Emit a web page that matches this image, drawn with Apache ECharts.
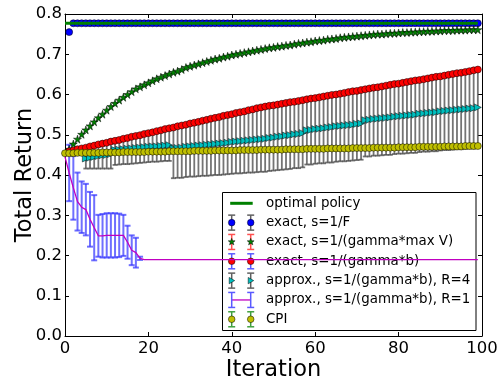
<!DOCTYPE html>
<html>
<head>
<meta charset="utf-8">
<script src="https://cdn.jsdelivr.net/npm/echarts@6/dist/echarts.min.js"></script>
<style>
  html, body { margin: 0; padding: 0; background: #fff; }
  #chart { width: 499px; height: 379px; }
</style>
</head>
<body>
<div id="chart"></div>
<script>
// ---- data ----
const xTicks = [0, 20, 40, 60, 80, 100];
const yTicks = [0.0, 0.1, 0.2, 0.3, 0.4, 0.5, 0.6, 0.7, 0.8];

// optimal policy (flat reference line)
const optimalIter = [0, 99];
const optimalVal = [0.777, 0.777];

// exact, s=1/F  (iterations 1..99)
const blueStart = 1;
const blueVal = [
  .755, .777, .777, .777, .777, .777, .777, .777, .777, .777,
  .777, .777, .777, .777, .777, .777, .777, .777, .777, .777,
  .777, .777, .777, .777, .777, .777, .777, .777, .777, .777,
  .777, .777, .777, .777, .777, .777, .777, .777, .777, .777,
  .777, .777, .777, .777, .777, .777, .777, .777, .777, .777,
  .777, .777, .777, .777, .777, .777, .777, .777, .777, .777,
  .777, .777, .777, .777, .777, .777, .777, .777, .777, .777,
  .777, .777, .777, .777, .777, .777, .777, .777, .777, .777,
  .777, .777, .777, .777, .777, .777, .777, .777, .777, .777,
  .777, .777, .777, .777, .777, .777, .777, .777, .777
];

// exact, s=1/(gamma*max V)  (iterations 1..99)
const starStart = 1;
const starVal = [
  .464, .477, .489, .501, .512, .522, .532, .542, .551, .561,
  .570, .578, .586, .593, .600, .607, .614, .619, .624, .629,
  .634, .639, .643, .647, .651, .655, .658, .662, .667, .670,
  .673, .676, .679, .682, .685, .688, .690, .693, .695, .698,
  .700, .702, .704, .706, .708, .710, .712, .714, .716, .717,
  .719, .720, .722, .723, .725, .727, .728, .730, .731, .733,
  .734, .735, .737, .738, .739, .741, .742, .743, .744, .745,
  .746, .747, .748, .749, .750, .750, .751, .752, .752, .753,
  .754, .754, .755, .755, .756, .756, .757, .757, .758, .758,
  .759, .759, .759, .760, .760, .760, .761, .761, .761
];

// exact, s=1/(gamma*b)  (iterations 1..99)
const redStart = 1;
const redVal = [
  .459, .461, .464, .466, .468, .471, .473, .476, .478, .480,
  .483, .485, .487, .490, .492, .495, .497, .499, .502, .504,
  .506, .509, .511, .514, .516, .518, .521, .523, .525, .528,
  .530, .532, .535, .537, .540, .542, .544, .547, .549, .551,
  .554, .556, .558, .561, .563, .566, .568, .570, .572, .573,
  .575, .577, .579, .581, .582, .584, .586, .588, .590, .591,
  .593, .595, .597, .599, .600, .602, .604, .606, .608, .609,
  .611, .613, .615, .617, .618, .620, .622, .624, .626, .627,
  .629, .631, .633, .635, .636, .638, .640, .642, .644, .645,
  .647, .649, .651, .653, .654, .656, .658, .660, .662
];

// approx., s=1/(gamma*b), R=4  (iterations 5..99), error bar extents below / above
const cyanStart = 5;
const cyanVal = [
  .441, .443, .445, .447, .449, .450, .452,
  .462, .463, .464, .465, .466, .467, .468, .469, .470, .471, .471, .472, .473, .474,
  .466, .467, .468, .470, .471,
  .472, .473, .474, .475, .476, .477, .478, .479, .480, .482,
  .483, .484, .485, .486, .487, .488, .489, .490, .492, .493,
  .495, .496, .498, .499, .501, .502, .504,
  .511, .512, .514, .515, .516, .518, .519, .521,
  .522, .523, .524, .525, .527, .528,
  .536, .537, .539, .540, .541, .542, .543, .545, .546,
  .547, .548, .549, .550, .552, .553, .554, .555, .556, .558,
  .559, .560, .561, .562, .563, .564, .565, .566, .568
];
const cyanErrDown = [
  .025, .027, .029, .031, .033, .034, .036,
  .037, .037, .037, .038, .038, .038, .038, .038, .038, .038, .038, .038, .038, .039,
  .074, .074, .075, .075, .075,
  .076, .076, .076, .077, .077, .077, .078, .078, .078, .079,
  .079, .080, .080, .080, .081, .081, .081, .082, .082, .082,
  .083, .083, .084, .084, .084, .085, .085,
  .085, .086, .086, .086, .087, .087, .088, .088,
  .088, .089, .089, .089, .090, .090,
  .090, .091, .091, .092, .092, .092, .093, .093, .093,
  .094, .094, .094, .095, .095, .095, .096, .096, .097, .097,
  .097, .098, .098, .098, .099, .099, .099, .100, .100
];
const cyanErrUp = [
  .025, .027, .029, .031, .033, .034, .036,
  .023, .024, .026, .027, .029, .030, .031, .033, .034, .035, .038, .039, .041, .042,
  .052, .054, .055, .055, .057,
  .058, .059, .061, .062, .064, .065, .066, .068, .069, .069,
  .071, .072, .073, .075, .076, .078, .079, .080, .080, .080,
  .080, .081, .081, .082, .081, .082, .082,
  .077, .078, .077, .078, .079, .079, .080, .079,
  .080, .081, .082, .083, .082, .083,
  .077, .078, .078, .078, .079, .080, .081, .081, .081,
  .082, .083, .084, .085, .084, .085, .086, .087, .088, .087,
  .088, .089, .090, .091, .091, .092, .093, .094, .094
];

// approx., s=1/(gamma*b), R=1  (iterations 0..99), error bars for the first 20
const magentaStart = 0;
const magentaVal = [
  .445, .405, .368, .334, .320, .314, .290, .269, .249, .249,
  .250, .250, .250, .250, .250, .233, .213, .207, .193, .190,
  .190, .190, .190, .190, .190, .190, .190, .190, .190, .190,
  .190, .190, .190, .190, .190, .190, .190, .190, .190, .190,
  .190, .190, .190, .190, .190, .190, .190, .190, .190, .190,
  .190, .190, .190, .190, .190, .190, .190, .190, .190, .190,
  .190, .190, .190, .190, .190, .190, .190, .190, .190, .190,
  .190, .190, .190, .190, .190, .190, .190, .190, .190, .190,
  .190, .190, .190, .190, .190, .190, .190, .190, .190, .190,
  .190, .190, .190, .190, .190, .190, .190, .190, .190, .190
];
const magentaErr = [
  0, .070, .079, .072, .064, .064, .068, .081, .052, .054,
  .055, .055, .055, .054, .051, .041, .037, .037, .004, 0
];

// CPI  (iterations 0..99)
const cpiStart = 0;
const cpiVal = [
  .454, .454, .454, .455, .455, .455, .455, .455, .455, .456,
  .456, .456, .456, .456, .457, .457, .457, .457, .457, .457,
  .458, .458, .458, .458, .458, .459, .459, .459, .459, .459,
  .459, .460, .460, .460, .460, .460, .461, .461, .461, .461,
  .461, .461, .462, .462, .462, .462, .462, .463, .463, .463,
  .463, .463, .463, .464, .464, .464, .464, .464, .465, .465,
  .465, .465, .465, .466, .466, .466, .466, .466, .466, .467,
  .467, .467, .467, .467, .468, .468, .468, .468, .468, .468,
  .469, .469, .469, .469, .469, .470, .470, .470, .470, .470,
  .470, .471, .471, .471, .471, .471, .472, .472, .472, .472
];

const legendLabels = [
  'optimal policy',
  'exact, s=1/F',
  'exact, s=1/(gamma*max V)',
  'exact, s=1/(gamma*b)',
  'approx., s=1/(gamma*b), R=4',
  'approx., s=1/(gamma*b), R=1',
  'CPI'
];

// ---- helpers ----
const FONT = 'DejaVu Sans';
const STAR = 'path://M50,2 L61,37 L98,37 L68,59 L79,95 L50,73 L21,95 L32,59 L2,37 L39,37 Z';
const TRI_RIGHT = 'path://M0,0 L10,5 L0,10 Z';

const points = (start, vals) => vals.map((v, i) => [start + i, v]);
const errRows = (start, vals, down, up) =>
  down.map((e, i) => [start + i, vals[i] - e, vals[i] + (up ? up[i] : e)]);

function errorBars(color, width, cap) {
  return function (params, api) {
    const x = api.value(0), lo = api.value(1), hi = api.value(2);
    if (!(hi > lo)) return null;
    const a = api.coord([x, lo]);
    const b = api.coord([x, hi]);
    const style = { stroke: color, lineWidth: width };
    return {
      type: 'group',
      children: [
        { type: 'line', shape: { x1: a[0], y1: a[1], x2: b[0], y2: b[1] }, style },
        { type: 'line', shape: { x1: a[0] - cap, y1: a[1], x2: a[0] + cap, y2: a[1] }, style },
        { type: 'line', shape: { x1: b[0] - cap, y1: b[1], x2: b[0] + cap, y2: b[1] }, style }
      ]
    };
  };
}

function dots(name, data, symbol, size, color) {
  return {
    name, type: 'scatter', data, symbol, symbolSize: size,
    itemStyle: { color, borderColor: '#000', borderWidth: 0.5, opacity: 1 },
    silent: true
  };
}

// ---- legend drawn as graphics ----
const LG = { x: 222.5, y: 192.5, w: 253.5, h: 138, row0: 203.3, step: 19.33, ix1: 231.7, ix2: 250.7, tx: 266 };

function starPts(cx, cy, R, r) {
  const p = [];
  for (let k = 0; k < 10; k++) {
    const ang = -Math.PI / 2 + k * Math.PI / 5;
    const rad = k % 2 ? r : R;
    p.push([cx + rad * Math.cos(ang), cy + rad * Math.sin(ang)]);
  }
  return p;
}

function legendErr(x, cy, color) {
  const s = { stroke: color, lineWidth: 1.5 };
  return [
    { type: 'line', shape: { x1: x, y1: cy - 7.5, x2: x, y2: cy + 7.5 }, style: s },
    { type: 'line', shape: { x1: x - 3.5, y1: cy - 7.5, x2: x + 3.5, y2: cy - 7.5 }, style: s },
    { type: 'line', shape: { x1: x - 3.5, y1: cy + 7.5, x2: x + 3.5, y2: cy + 7.5 }, style: s }
  ];
}

function legendMarker(kind, x, cy, color) {
  const st = { fill: color, stroke: '#000', lineWidth: 0.5 };
  if (kind === 'circle') return { type: 'circle', shape: { cx: x, cy, r: 3.3 }, style: st };
  if (kind === 'star') return { type: 'polygon', shape: { points: starPts(x, cy, 3.6, 1.5) }, style: st };
  return { type: 'polygon', shape: { points: [[x - 2.5, cy - 3.2], [x + 3, cy], [x - 2.5, cy + 3.2]] }, style: st };
}

const legendIcons = [
  { kind: 'line', color: '#008000' },
  { kind: 'circle', color: '#0000ff', ecolor: '#606060' },
  { kind: 'star', color: '#008000', ecolor: '#ff5050' },
  { kind: 'circle', color: '#ff0000', ecolor: '#5a5aff' },
  { kind: 'tri', color: '#00bfbf', ecolor: '#606060' },
  { kind: 'err', color: '#c000c0', ecolor: '#5a5aff' },
  { kind: 'circle', color: '#bfbf00', ecolor: '#40a040' }
];

const legendEls = [
  { type: 'rect', shape: { x: LG.x, y: LG.y, width: LG.w, height: LG.h }, style: { fill: '#fff', stroke: '#000', lineWidth: 1 } }
];
legendLabels.forEach((label, i) => {
  const cy = LG.row0 + i * LG.step;
  const ic = legendIcons[i];
  if (ic.kind === 'line') {
    legendEls.push({ type: 'line', shape: { x1: LG.ix1 - 1.5, y1: cy, x2: LG.ix2 + 2, y2: cy }, style: { stroke: ic.color, lineWidth: 3 } });
  } else if (ic.kind === 'err') {
    legendEls.push({ type: 'line', shape: { x1: LG.ix1, y1: cy, x2: LG.ix2, y2: cy }, style: { stroke: ic.color, lineWidth: 1.3 } });
    legendEls.push(...legendErr(LG.ix1, cy, ic.ecolor), ...legendErr(LG.ix2, cy, ic.ecolor));
  } else {
    [LG.ix1, LG.ix2].forEach(x => {
      legendEls.push(...legendErr(x, cy, ic.ecolor));
      legendEls.push(legendMarker(ic.kind, x, cy, ic.color));
    });
  }
  legendEls.push({
    type: 'text', x: LG.tx, y: cy,
    style: { text: label, fill: '#000', font: '13.4px "' + FONT + '"', verticalAlign: 'middle', align: 'left' }
  });
});

// ---- chart ----
const chart = echarts.init(document.getElementById('chart'), null, { renderer: 'canvas' });

const axisLine = { onZero: false, lineStyle: { color: '#000', width: 1 } };
const tick = { inside: true, length: 4, lineStyle: { color: '#000', width: 1 } };
const labelStyle = { fontFamily: FONT, fontSize: 16.5, color: '#000' };
const nameStyle = { fontFamily: FONT, fontSize: 22.5, color: '#000' };

const option = {
  animation: false,
  backgroundColor: '#fff',
  grid: { left: 65, right: 17, top: 14, bottom: 43, containLabel: false, outerBoundsMode: 'none' },
  xAxis: [
    {
      type: 'value', min: xTicks[0], max: xTicks[xTicks.length - 1], interval: 20,
      name: 'Iteration', nameLocation: 'middle', nameGap: 23, nameMoveOverlap: false, nameTextStyle: nameStyle,
      axisLine, axisTick: tick, splitLine: { show: false },
      axisLabel: { ...labelStyle, margin: 4 }
    },
    {
      type: 'value', position: 'top', min: xTicks[0], max: xTicks[xTicks.length - 1], interval: 20,
      axisLine, axisTick: tick, splitLine: { show: false }, axisLabel: { show: false }
    }
  ],
  yAxis: [
    {
      type: 'value', min: yTicks[0], max: yTicks[yTicks.length - 1], interval: 0.1,
      name: 'Total Return', nameLocation: 'middle', nameGap: 28, nameRotate: 90, nameMoveOverlap: false,
      nameTextStyle: nameStyle,
      axisLine, axisTick: tick, splitLine: { show: false },
      axisLabel: { ...labelStyle, margin: 3, formatter: v => v.toFixed(1) }
    },
    {
      type: 'value', position: 'right', min: yTicks[0], max: yTicks[yTicks.length - 1], interval: 0.1,
      axisLine, axisTick: tick, splitLine: { show: false }, axisLabel: { show: false }
    }
  ],
  series: [
    {
      name: 'optimal policy', type: 'line', silent: true, symbol: 'none',
      data: optimalIter.map((x, i) => [x, optimalVal[i]]),
      lineStyle: { color: '#008000', width: 3 }
    },
    {
      name: 'R=4 error', type: 'custom', silent: true,
      renderItem: errorBars('rgba(70,70,70,0.75)', 1.8, 2.5),
      encode: { x: 0, y: [1, 2] },
      data: errRows(cyanStart, cyanVal, cyanErrDown, cyanErrUp)
    },
    {
      name: 'R=1 error', type: 'custom', silent: true,
      renderItem: errorBars('rgba(50,50,255,0.7)', 2, 3),
      encode: { x: 0, y: [1, 2] },
      data: errRows(magentaStart, magentaVal, magentaErr)
    },
    {
      name: legendLabels[5], type: 'line', silent: true, symbol: 'none', showSymbol: false,
      data: points(magentaStart, magentaVal),
      lineStyle: { color: '#c000c0', width: 1.3, type: 'solid' }
    },
    dots(legendLabels[1], points(blueStart, blueVal), 'circle', 7, '#0000ff'),
    dots(legendLabels[2], points(starStart, starVal), STAR, 8, '#008000'),
    dots(legendLabels[3], points(redStart, redVal), 'circle', 7, '#ff0000'),
    dots(legendLabels[4], points(cyanStart, cyanVal), TRI_RIGHT, 7, '#00bfbf'),
    dots(legendLabels[6], points(cpiStart, cpiVal), 'circle', 7, '#bfbf00')
  ],
  graphic: [{ type: 'group', z: 100, silent: true, children: legendEls }]
};

chart.setOption(option);
window.addEventListener('resize', () => chart.resize());
</script>
</body>
</html>
